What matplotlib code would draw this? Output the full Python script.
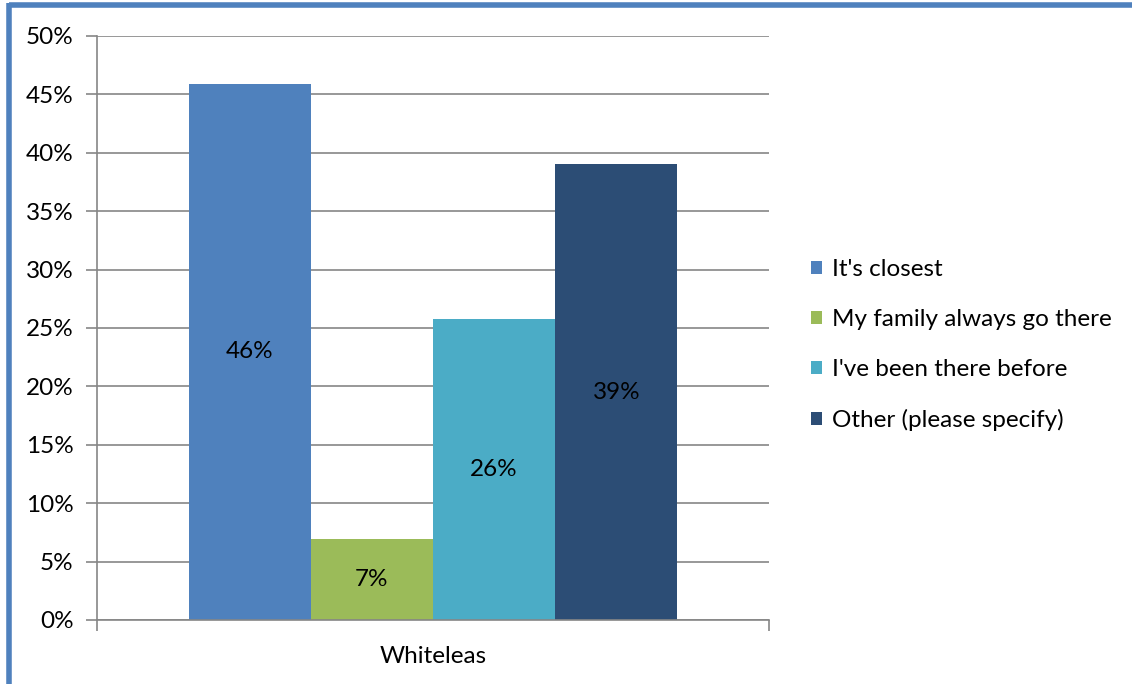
import matplotlib
matplotlib.use("Agg")
import matplotlib.pyplot as plt
from matplotlib.lines import Line2D
from matplotlib.patches import Patch
import numpy as np

plt.rcParams['font.family'] = ['Lato', 'DejaVu Sans']

category = "Whiteleas"
series = ["It's closest", "My family always go there", "I've been there before", "Other (please specify)"]
values = [45.9, 6.9, 25.8, 39.0]
labels = ["46%", "7%", "26%", "39%"]
colors = ["#4F81BD", "#9BBB59", "#4BACC6", "#2C4D75"]
yticks = [0, 5, 10, 15, 20, 25, 30, 35, 40, 45, 50]

FS = 17.5
W, H = 1132, 684
fig = plt.figure(figsize=(W / 100, H / 100), dpi=100)
ax = fig.add_axes([97 / W, (H - 620) / H, 672 / W, 584 / H])

n = len(series)
w = 1 / (n + 1.5)
offsets = (np.arange(n) - (n - 1) / 2) * w
for off, v, lab, c, s in zip(offsets, values, labels, colors, series):
    ax.bar(off, v, width=w, color=c, label=s, zorder=2)
    ax.text(off, v / 2, lab, ha='center', va='center', fontsize=FS, color='black', zorder=3)

ax.set_xlim(-0.5, 0.5)
ax.set_ylim(0, 50)
ax.set_yticks(yticks)
ax.set_yticklabels([f"{t}%" for t in yticks], fontsize=FS)
ax.yaxis.grid(True, color='#868686', linewidth=1.2, zorder=0)
ax.set_axisbelow(True)
ax.tick_params(axis='y', length=8, width=1.2, color='#868686', pad=9)
ax.set_xticks([0])
ax.set_xticklabels([category], fontsize=FS)
ax.set_xticks([-0.5, 0.5], minor=True)
ax.tick_params(axis='x', which='major', length=0, pad=19)
ax.tick_params(axis='x', which='minor', length=8, width=1.2, color='#868686')
for sp in ['top', 'right']:
    ax.spines[sp].set_visible(False)
for sp in ['left', 'bottom']:
    ax.spines[sp].set_color('#868686')
    ax.spines[sp].set_linewidth(1.2)

handles = [Patch(facecolor=c, edgecolor='none') for c in colors]
fig.legend(handles, series, loc='center left', bbox_to_anchor=(811 / W, (H - 345) / H),
           frameon=False, fontsize=FS, handlelength=0.45, handleheight=0.45,
           handletextpad=0.4, labelspacing=1.2, borderpad=0, borderaxespad=0)

# blue frame
fig.add_artist(Line2D([9 / W, 1.0], [(H - 5) / H, (H - 5) / H], color='#4F81BD', linewidth=4,
                      transform=fig.transFigure, solid_capstyle='butt'))
fig.add_artist(Line2D([9 / W, 9 / W], [0, (H - 3) / H], color='#4F81BD', linewidth=4,
                      transform=fig.transFigure, solid_capstyle='butt'))

fig.savefig("out.png", dpi=100)
